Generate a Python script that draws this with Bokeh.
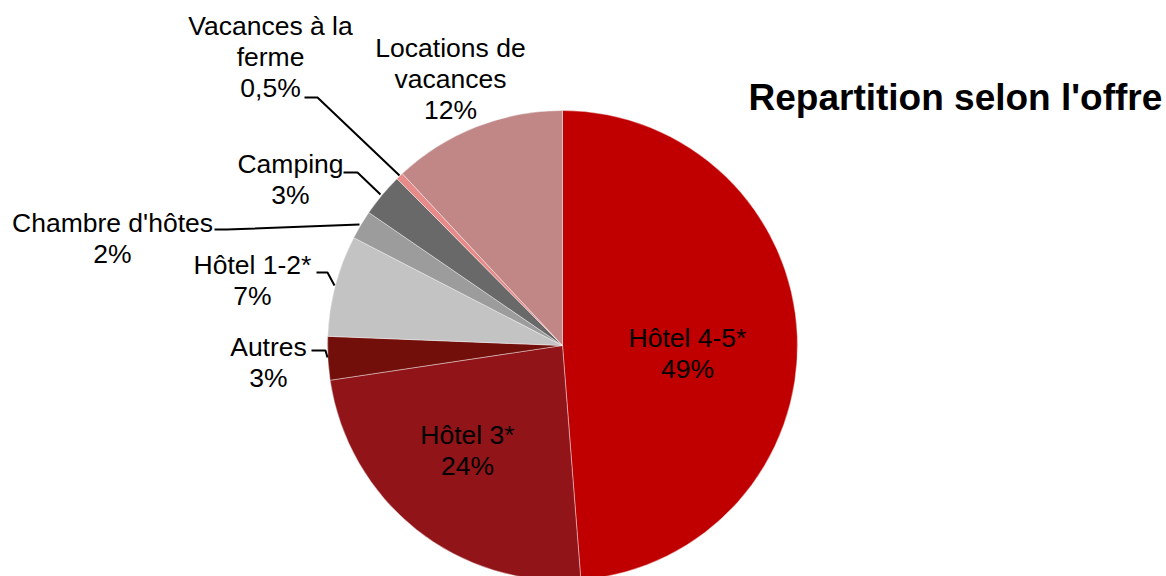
import math
from bokeh.plotting import figure
from bokeh.models import Range1d, ColumnDataSource
from bokeh.core.properties import value
from bokeh.embed import file_html
from bokeh.resources import INLINE

# ---- data ----
categories = ["Hôtel 4-5*", "Hôtel 3*", "Autres", "Hôtel 1-2*", "Chambre d'hôtes",
              "Camping", "Vacances à la ferme", "Locations de vacances"]
shares = [49, 24, 3, 7, 2, 3, 0.5, 12]
pct_labels = ["49%", "24%", "3%", "7%", "2%", "3%", "0,5%", "12%"]
title_text = "Repartition selon l'offre"

# ---- styles / layout ----
colors = ["#C00000", "#911418", "#720F0B", "#C3C3C3", "#9C9C9C", "#696969", "#E68A8A", "#C08786"]
W, H = 1166, 576
CX, CY, R = 562, 345, 235  # pixel coordinates (y downward)
FONT = "Liberation Sans"

def py(y):
    return H - y

# label layout: (name lines, center x, first line y)
label_layout = {
    "Hôtel 4-5*": (["Hôtel 4-5*"], 687, 337),
    "Hôtel 3*": (["Hôtel 3*"], 467, 434),
    "Autres": (["Autres"], 268, 346),
    "Hôtel 1-2*": (["Hôtel 1-2*"], 252, 264),
    "Chambre d'hôtes": (["Chambre d'hôtes"], 112, 222),
    "Camping": (["Camping"], 290, 163),
    "Vacances à la ferme": (["Vacances à la", "ferme"], 270, 25),
    "Locations de vacances": (["Locations de", "vacances"], 450, 47),
}
LINE_H = 31

leaders = [
    [(304, 97), (317, 97), (399, 175)],
    [(343, 172), (357, 172), (380, 194)],
    [(214, 229), (226, 229), (359, 224)],
    [(316, 272), (327, 272), (334, 285)],
    [(311, 350), (325, 350), (327, 357)],
]

p = figure(width=W, height=H, output_backend="svg", toolbar_location=None,
           x_range=Range1d(0, W), y_range=Range1d(0, H), min_border=0)
p.axis.visible = False
p.grid.visible = False
p.outline_line_color = None
p.background_fill_color = "white"
p.border_fill_color = "white"

total = sum(shares)
starts, ends = [], []
cum = 0.0
for s in shares:
    a0 = cum / total * 2 * math.pi
    cum += s
    a1 = cum / total * 2 * math.pi
    starts.append(math.pi / 2 - a0)
    ends.append(math.pi / 2 - a1)

src = ColumnDataSource(dict(cat=categories, start=starts, end=ends, color=colors))
p.wedge(x=CX, y=py(CY), radius=R, start_angle="start", end_angle="end",
        direction="clock", fill_color="color", line_color="white", line_width=0.5,
        line_alpha=0.8, source=src)

# leader lines
for pts in leaders:
    p.line([q[0] for q in pts], [py(q[1]) for q in pts], line_color="black", line_width=2)

# labels
for cat, pct in zip(categories, pct_labels):
    lines, lx, ly = label_layout[cat]
    all_lines = lines + [pct]
    xs = [lx] * len(all_lines)
    ys = [py(ly + i * LINE_H) for i in range(len(all_lines))]
    p.text(x=xs, y=ys, text=all_lines, text_align="center", text_baseline="middle",
           text_font=value(FONT), text_font_size="26.5px", text_color="black")

p.text(x=[748], y=[py(97)], text=[title_text], text_align="left", text_baseline="middle",
       text_font=value(FONT), text_font_size="37px", text_font_style="bold",
       text_color="black")

open("out.html", "w").write(file_html(p, INLINE))
